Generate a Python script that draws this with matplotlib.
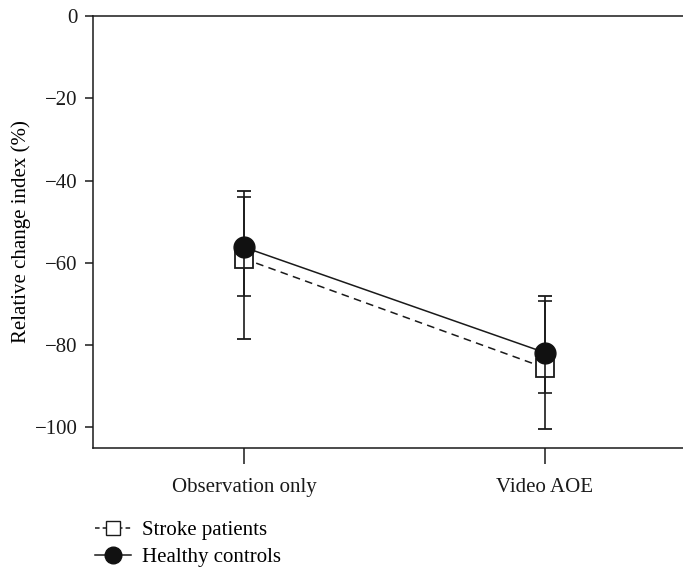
import matplotlib
matplotlib.use("Agg")
import matplotlib.pyplot as plt
from matplotlib.lines import Line2D

categories = ["Observation only", "Video AOE"]
stroke_mean = [-59.0, -85.5]
stroke_err_low = [19.6, 15.0]
stroke_err_high = [16.4, 17.4]
healthy_mean = [-56.2, -81.8]
healthy_err_low = [11.8, 9.9]
healthy_err_high = [12.3, 12.5]
yticks = [0, -20, -40, -60, -80, -100]

plt.rcParams['font.family'] = ['Liberation Serif', 'DejaVu Serif']

fig = plt.figure(figsize=(6.83, 5.69), dpi=100)
ax = fig.add_axes([0.1362, 0.2127, 0.8638, 0.7592])

x = list(range(len(categories)))
ax.errorbar(x, stroke_mean, yerr=[stroke_err_low, stroke_err_high], fmt='s', ls='--',
            color='#1a1a1a', mfc='white', mec='#1a1a1a', ms=12.5, mew=1.3, lw=1.1,
            elinewidth=1.2, capsize=5, capthick=1.2, zorder=2, dashes=(5, 3.5))
ax.errorbar(x, healthy_mean, yerr=[healthy_err_low, healthy_err_high], fmt='o', ls='-',
            color='#1a1a1a', mfc='#111111', mec='#111111', ms=15, lw=1.1,
            elinewidth=1.2, capsize=5, capthick=1.2, zorder=3)

ax.set_xlim(-0.502, 1.46)
ax.set_ylim(-105, 0)
ax.set_yticks(yticks)
ax.set_yticklabels([str(t).replace('-', '\u2212') for t in yticks])
ax.set_xticks(x)
ax.set_xticklabels(categories)
ax.spines['right'].set_visible(False)
for s in ['left', 'top', 'bottom']:
    ax.spines[s].set_linewidth(1.1)
    ax.spines[s].set_color('#1a1a1a')
ax.tick_params(axis='both', labelsize=15, width=1.1, colors='#1a1a1a')
ax.tick_params(axis='y', length=6, pad=5)
ax.tick_params(axis='x', length=11.5, pad=10)
ax.set_ylabel("Relative change index (%)", fontsize=15, labelpad=3)

handles = [
    Line2D([0], [0], ls='--', color='#1a1a1a', marker='s', mfc='white', mec='#1a1a1a', ms=10, lw=1.1,
           dashes=(3, 2)),
    Line2D([0], [0], ls='-', color='#1a1a1a', marker='o', mfc='#111111', mec='#111111', ms=12, lw=1.1),
]
fig.legend(handles, ["Stroke patients", "Healthy controls"], loc='upper left',
           bbox_to_anchor=(0.124, 0.103), frameon=False, fontsize=15,
           handlelength=1.7, handletextpad=0.55, labelspacing=0.33, borderpad=0)

fig.savefig("out.png", dpi=100)
